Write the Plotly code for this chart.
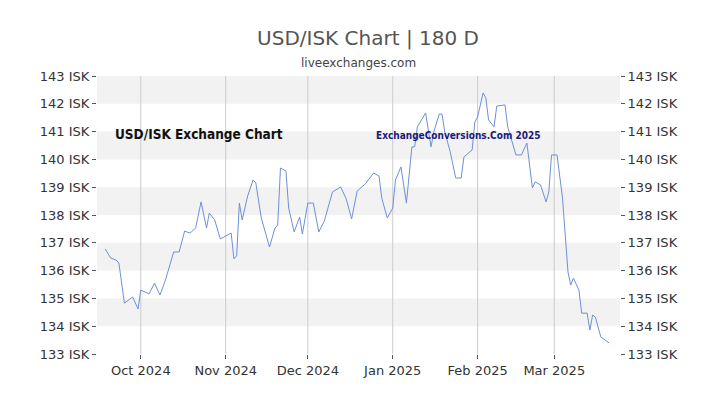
import plotly.graph_objects as go

dates = ["2024-09-18","2024-09-20","2024-09-22","2024-09-23","2024-09-25","2024-09-28","2024-09-30",
"2024-10-01","2024-10-04","2024-10-06","2024-10-08","2024-10-10","2024-10-13","2024-10-15","2024-10-17",
"2024-10-19","2024-10-21","2024-10-23","2024-10-25","2024-10-26","2024-10-28","2024-10-30","2024-11-03",
"2024-11-04","2024-11-05","2024-11-06","2024-11-07","2024-11-09","2024-11-11","2024-11-12","2024-11-14",
"2024-11-17","2024-11-19","2024-11-20","2024-11-21","2024-11-23","2024-11-24","2024-11-26","2024-11-28",
"2024-11-29","2024-12-01","2024-12-03","2024-12-05","2024-12-07","2024-12-10","2024-12-13","2024-12-15",
"2024-12-17","2024-12-19","2024-12-22","2024-12-25","2024-12-27","2024-12-28","2024-12-30","2025-01-01",
"2025-01-02","2025-01-04","2025-01-06","2025-01-08","2025-01-09","2025-01-10","2025-01-13","2025-01-15",
"2025-01-16","2025-01-18","2025-01-19","2025-01-20","2025-01-22","2025-01-24","2025-01-26","2025-01-27",
"2025-01-30","2025-01-31","2025-02-01","2025-02-03","2025-02-04","2025-02-05","2025-02-07","2025-02-08",
"2025-02-11","2025-02-12","2025-02-15","2025-02-17","2025-02-19","2025-02-21","2025-02-22","2025-02-24",
"2025-02-26","2025-02-27","2025-02-28","2025-03-02","2025-03-04","2025-03-06","2025-03-07","2025-03-08",
"2025-03-10","2025-03-11","2025-03-13","2025-03-14","2025-03-15","2025-03-16","2025-03-18","2025-03-21"]
rates = [136.78,136.45,136.38,136.27,134.83,135.05,134.62,
135.30,135.16,135.55,135.12,135.66,136.67,136.67,137.42,
137.35,137.53,138.47,137.53,138.07,137.82,137.14,137.35,
136.42,136.53,138.43,137.82,138.68,139.26,139.15,137.89,
136.85,137.53,137.64,139.69,139.58,138.25,137.39,137.93,
137.32,138.43,138.43,137.39,137.78,138.83,139.01,138.58,
137.86,138.86,139.12,139.51,139.40,138.61,137.89,138.25,
139.26,139.73,138.43,140.45,140.45,141.17,141.67,140.45,
140.99,141.63,141.63,140.99,140.27,139.33,139.33,140.09,
140.34,141.35,141.53,142.39,142.21,141.42,141.17,141.92,
141.96,141.17,140.16,140.16,140.59,138.97,139.19,139.08,
138.47,138.83,140.16,140.16,138.61,135.95,135.48,135.73,
135.30,134.47,134.47,133.86,134.40,134.33,133.61,133.40]
tick_dates = ["2024-10-01","2024-11-01","2024-12-01","2025-01-01","2025-02-01","2025-03-01"]
tick_labels = ["Oct 2024","Nov 2024","Dec 2024","Jan 2025","Feb 2025","Mar 2025"]
y_ticks = list(range(133, 144))
y_labels = [f"{v} ISK" for v in y_ticks]

fig = go.Figure()
fig.add_trace(go.Scatter(x=dates, y=rates, mode="lines", line=dict(color="#6f8fd9", width=1), hoverinfo="skip"))
fig.add_trace(go.Scatter(x=dates, y=rates, mode="lines", line=dict(width=0), yaxis="y2", opacity=0, hoverinfo="skip"))

for lo in [134, 136, 138, 140, 142]:
    fig.add_shape(type="rect", xref="paper", yref="y", x0=0, x1=1, y0=lo, y1=lo+1,
                  fillcolor="#f2f2f2", line=dict(width=0), layer="below")
for d in tick_dates:
    fig.add_shape(type="line", xref="x", yref="paper", x0=d, x1=d, y0=0, y1=1,
                  line=dict(color="#cccccc", width=1), layer="below")

ax = dict(range=[133, 143], tickvals=y_ticks, ticktext=y_labels, showgrid=False, zeroline=False, automargin=False,
          ticks="outside", ticklen=4, tickcolor="#555", tickfont=dict(size=13, color="#333", family="DejaVu Sans"))
fig.update_layout(
    width=720, height=405, plot_bgcolor="white", paper_bgcolor="white", showlegend=False,
    margin=dict(l=89, r=108, t=68, b=59),
    title=dict(text="USD/ISK Chart | 180 D", x=0.5, xanchor="center", y=0.925, yanchor="middle",
               font=dict(size=20, color="#555", family="DejaVu Sans")),
    xaxis=dict(range=["2024-09-15", "2025-03-25"], tickvals=tick_dates, ticktext=tick_labels, showgrid=False,
               zeroline=False, automargin=False, ticks="outside", ticklen=4, tickcolor="#555",
               tickfont=dict(size=13, color="#333", family="DejaVu Sans")),
    yaxis=dict(**ax),
    yaxis2=dict(**ax, overlaying="y", side="right"),
    annotations=[
        dict(text="liveexchanges.com", xref="paper", yref="paper", x=0.5, y=1.0, yshift=22, showarrow=False,
             xanchor="center", font=dict(size=12, color="#444", family="DejaVu Sans")),
        dict(text="<b>USD/ISK Exchange Chart</b>", xref="paper", yref="y", x=0.195, y=140.9, showarrow=False,
             xanchor="center", font=dict(size=13.5, color="#111", family="DejaVu Sans Condensed")),
        dict(text="<b>ExchangeConversions.Com 2025</b>", xref="paper", yref="y", x=0.69, y=140.85, showarrow=False,
             xanchor="center", font=dict(size=10, color="#1a1a7a", family="DejaVu Sans Condensed")),
    ],
)
fig.write_html("out.html")
